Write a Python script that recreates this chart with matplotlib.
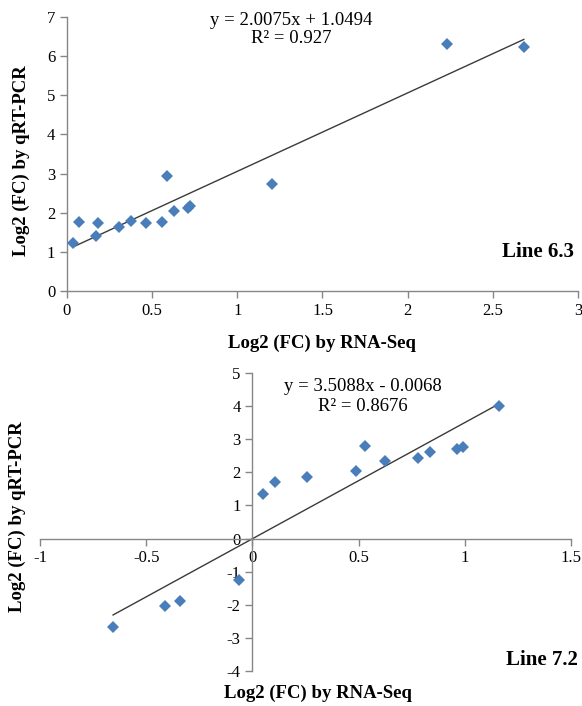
import numpy as np
import matplotlib.pyplot as plt

# Line 6.3: log2 fold change, RNA-Seq vs qRT-PCR
rnaseq_63 = [0.035, 0.07, 0.17, 0.18, 0.305, 0.377, 0.465, 0.556, 0.589,
             0.628, 0.709, 0.724, 1.202, 2.232, 2.682]
qpcr_63 = [1.23, 1.77, 1.40, 1.74, 1.62, 1.79, 1.74, 1.77, 2.94,
           2.04, 2.13, 2.17, 2.74, 6.31, 6.25]
slope_63, icpt_63, r2_63 = 2.0075, 1.0494, 0.927

# Line 7.2
rnaseq_72 = [-0.656, -0.411, -0.341, -0.061, 0.051, 0.105, 0.259, 0.486,
             0.532, 0.625, 0.780, 0.834, 0.964, 0.990, 1.160]
qpcr_72 = [-2.67, -2.04, -1.88, -1.25, 1.35, 1.71, 1.87, 2.03,
           2.80, 2.35, 2.44, 2.61, 2.69, 2.77, 3.99]
slope_72, icpt_72, r2_72 = 3.5088, -0.0068, 0.8676

plt.rcParams['font.family'] = ['Liberation Serif', 'DejaVu Serif']
plt.rcParams['axes.unicode_minus'] = False
blue = '#4a7ebb'
grey = '#868686'
xlab = 'Log2 (FC) by RNA-Seq'
ylab = 'Log2 (FC) by qRT-PCR'


def style_axes(ax):
    for s in ['top', 'right']:
        ax.spines[s].set_visible(False)
    for s in ['left', 'bottom']:
        ax.spines[s].set_color(grey)
        ax.spines[s].set_linewidth(1.0)
    ax.tick_params(colors=grey, labelcolor='black', labelsize=12,
                   length=5, width=1.0, direction='out')


def draw_fit(ax, x, y, slope, icpt, r2):
    ax.plot(x, y, 'D', color=blue, markersize=6.3, markeredgewidth=0, zorder=3)
    xf = np.array([min(x), max(x)])
    ax.plot(xf, slope * xf + icpt, color='#3a3a3a', lw=1.0, zorder=2)
    sign = '+' if icpt >= 0 else '-'
    return 'y = %.4fx %s %.4f' % (slope, sign, abs(icpt)), 'R² = %s' % r2


fig = plt.figure(figsize=(5.82, 7.06), dpi=100)

# upper panel
ax1 = fig.add_axes([0.1151, 0.5882, 0.8780, 0.3873])
style_axes(ax1)
eq, rr = draw_fit(ax1, rnaseq_63, qpcr_63, slope_63, icpt_63, r2_63)
ax1.set_xlim(0, 3)
ax1.set_ylim(0, 7)
ax1.set_xticks(np.arange(0, 3.01, 0.5))
ax1.set_xticklabels(['0', '0.5', '1', '1.5', '2', '2.5', '3'])
ax1.set_yticks(range(0, 8))
ax1.text(0.438, 0.99, eq, transform=ax1.transAxes, ha='center', va='center', fontsize=13.5)
ax1.text(0.438, 0.921, rr, transform=ax1.transAxes, ha='center', va='center', fontsize=13.5)
ax1.text(0.922, 0.142, 'Line 6.3', transform=ax1.transAxes, ha='center', va='center',
         fontsize=15, fontweight='bold')
ax1.text(0.499, -0.191, xlab, transform=ax1.transAxes, ha='center', va='center',
         fontsize=13.5, fontweight='bold')
ax1.text(-0.09, 0.474, ylab, transform=ax1.transAxes, ha='center', va='center',
         fontsize=13.5, fontweight='bold', rotation=90)

# lower panel, axes crossing at the origin
ax2 = fig.add_axes([0.0687, 0.0496, 0.9124, 0.4221])
style_axes(ax2)
ax2.spines['left'].set_position(('data', 0))
ax2.spines['bottom'].set_position(('data', 0))
eq, rr = draw_fit(ax2, rnaseq_72, qpcr_72, slope_72, icpt_72, r2_72)
ax2.set_xlim(-1, 1.5)
ax2.set_ylim(-4, 5)
ax2.set_xticks(np.arange(-1, 1.51, 0.5))
ax2.set_xticklabels(['-1', '-0.5', '0', '0.5', '1', '1.5'])
ax2.set_yticks(range(-4, 6))
ax2.text(0.608, 0.956, eq, transform=ax2.transAxes, ha='center', va='center', fontsize=13.5)
ax2.text(0.608, 0.886, rr, transform=ax2.transAxes, ha='center', va='center', fontsize=13.5)
ax2.text(0.945, 0.037, 'Line 7.2', transform=ax2.transAxes, ha='center', va='center',
         fontsize=15, fontweight='bold')
ax2.text(0.523, -0.074, xlab, transform=ax2.transAxes, ha='center', va='center',
         fontsize=13.5, fontweight='bold')
ax2.text(-0.043, 0.517, ylab, transform=ax2.transAxes, ha='center', va='center',
         fontsize=13.5, fontweight='bold', rotation=90)

fig.savefig('out.png', dpi=100)
